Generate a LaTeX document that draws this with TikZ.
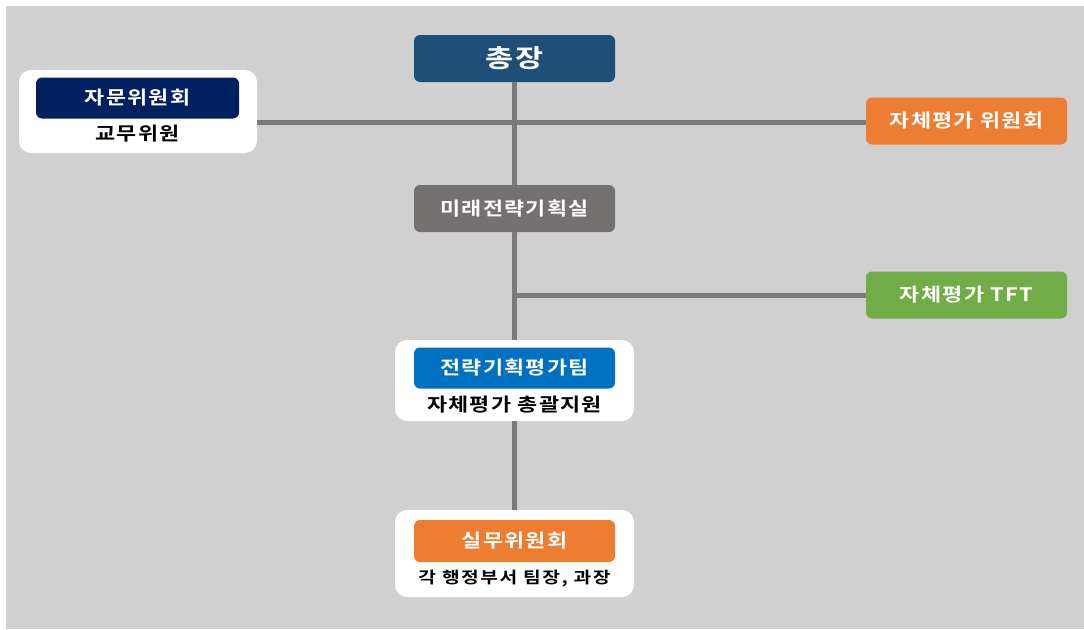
\documentclass[tikz,border=0pt]{standalone}
\usepackage{fontspec}
\usepackage{graphicx}
\setmainfont{Noto Sans CJK KR}
\newfontfamily\kr{Noto Sans CJK KR Bold}[LetterSpace=6]
\newfontfamily\krs{Noto Sans CJK KR Bold}[LetterSpace=8]
\newcommand{\widetext}[1]{\scalebox{1.18}[1]{#1}}
\definecolor{bgray}{HTML}{D0D0D0}
\definecolor{lgray}{HTML}{7A7A7A}
\definecolor{cpres}{HTML}{1F4E79}
\definecolor{cnavy}{HTML}{002060}
\definecolor{corange}{HTML}{ED7D31}
\definecolor{cgreen}{HTML}{70AD47}
\definecolor{cblue}{HTML}{0070C0}
\definecolor{cdgray}{HTML}{767171}
\tikzset{
  box/.style={rectangle, rounded corners=6pt, minimum width=201pt, minimum height=47pt, inner sep=0pt, text=white, font=\kr\fontsize{18.5}{22}\selectfont},
  innerbox/.style={box, minimum height=41pt},
  group/.style={rectangle, rounded corners=12pt, fill=white, inner sep=0pt},
  sub/.style={text=black, font=\kr\fontsize{18.5}{22}\selectfont, inner sep=0pt},
  conn/.style={draw=lgray, line width=5pt}
}
\begin{document}
\begin{tikzpicture}[x=1pt,y=-1pt]
\useasboundingbox (0,0) rectangle (1084,629);
\fill[bgray] (6,6) rectangle (1084,629);
% white groups
\node[group, minimum width=238pt, minimum height=83pt] (g1) at (138,111.5) {};
\node[group, minimum width=239pt, minimum height=81pt] (g2) at (514.5,380.5) {};
\node[group, minimum width=239pt, minimum height=87pt] (g3) at (514.5,553.5) {};
\coordinate (j1) at (515,122);
\coordinate (j2) at (515,295);
\node[box, fill=cpres, font=\kr\fontsize{25}{28}\selectfont] (pres) at (514.5,58.5) {\scalebox{1.22}[1]{총장}};
\node[box, fill=cdgray] (future) at (514.5,208.5) {\widetext{미래전략기획실}};
\node[box, fill=corange] (selfc) at (966.5,121) {\widetext{자체평가 위원회}};
\node[box, fill=cgreen] (tft) at (966.5,295) {\widetext{자체평가 TFT}};
\node[innerbox, minimum width=203pt, fill=cnavy] (adv) at (137.5,98) {\widetext{자문위원회}};
\node[sub] (advsub) at (137.5,134) {\widetext{교무위원}};
\node[innerbox, fill=cblue] (team) at (514.5,368) {\widetext{전략기획평가팀}};
\node[sub] (teamsub) at (514.5,405) {\widetext{자체평가 총괄지원}};
\node[innerbox, minimum height=42pt, fill=corange] (work) at (514.5,541) {\widetext{실무위원회}};
\node[sub, font=\krs\fontsize{16}{19}\selectfont] (worksub) at (514.5,578) {\scalebox{1.2}[1]{각 행정부서 팀장, 과장}};
\draw[conn] (g1.east |- j1) -- (selfc.west |- j1);
\draw[conn] (pres.south) -- (future.north);
\draw[conn] (future.south) -- (g2.north);
\draw[conn] (j2) -- (tft.west);
\draw[conn] (g2.south) -- (g3.north);
\end{tikzpicture}
\end{document}
